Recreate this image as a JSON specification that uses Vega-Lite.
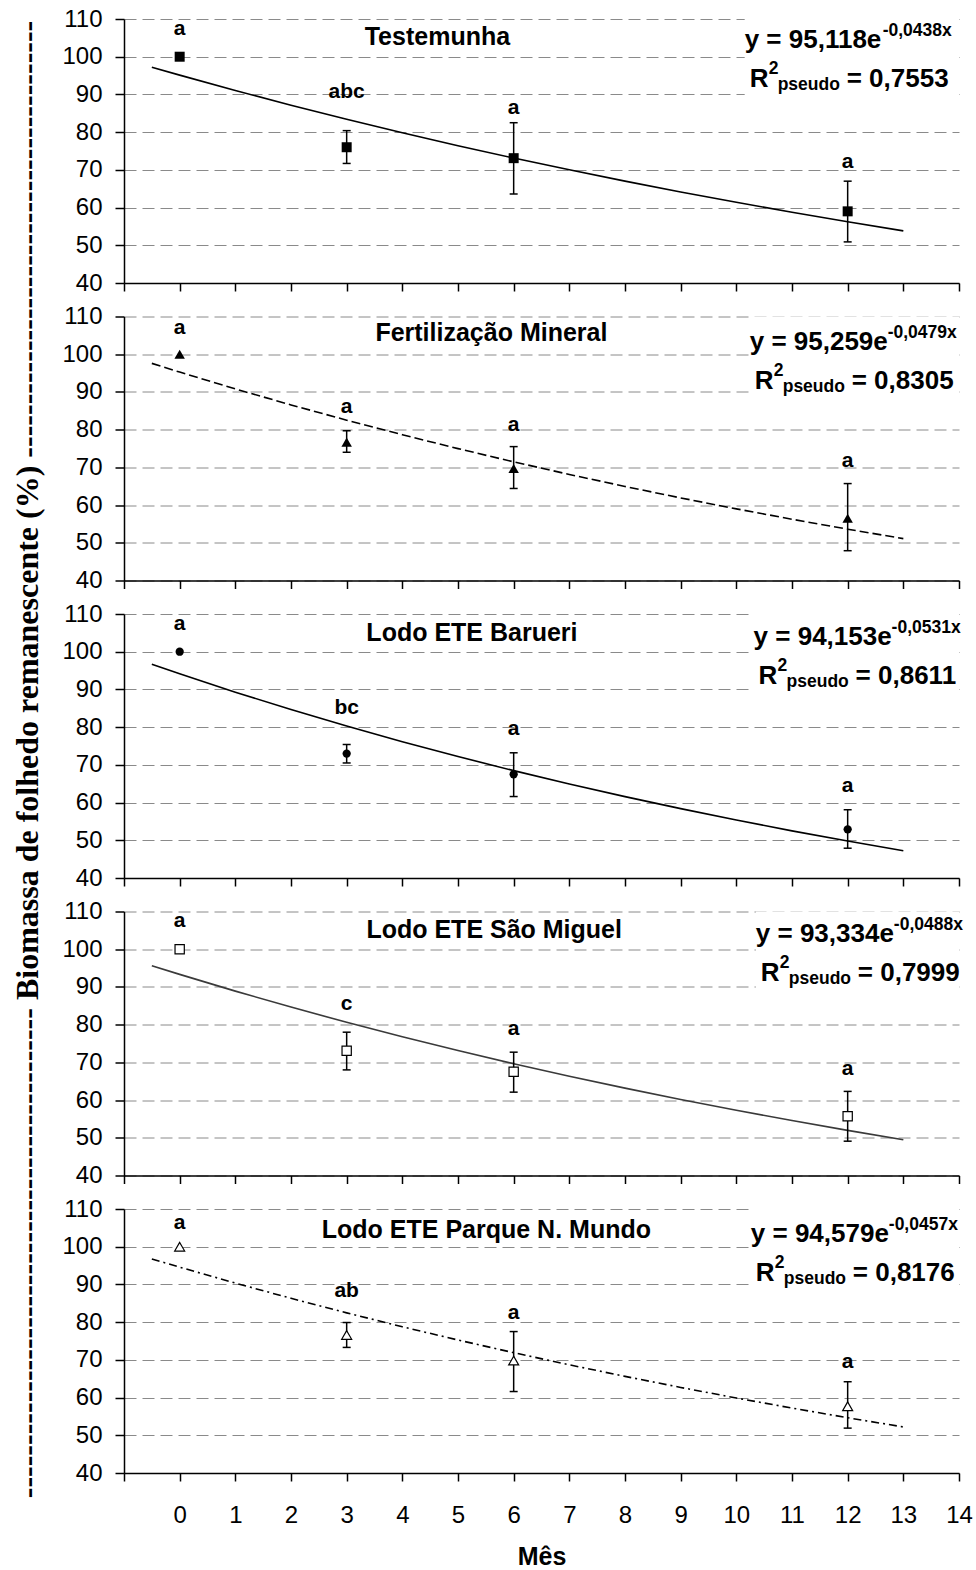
{
"$schema": "https://vega.github.io/schema/vega-lite/v6.json",
"padding": {"left": 11, "top": 7, "right": 5, "bottom": 5},
"background": "white",
"bounds": "flush",
"spacing": 33.5,
"datasets": {
"pts": [
{"t":"T1","mes":0,"mean":100,"lo":null,"hi":null,"letter":"a","ly":107.3},
{"t":"T1","mes":3,"mean":76.0,"lo":71.7,"hi":80.4,"letter":"abc","ly":90.7},
{"t":"T1","mes":6,"mean":73.1,"lo":63.6,"hi":82.5,"letter":"a","ly":86.3},
{"t":"T1","mes":12,"mean":59.0,"lo":50.9,"hi":67.0,"letter":"a","ly":72.0},
{"t":"T2","mes":0,"mean":100,"lo":null,"hi":null,"letter":"a","ly":107.0},
{"t":"T2","mes":3,"mean":76.7,"lo":74.0,"hi":79.7,"letter":"a","ly":85.9},
{"t":"T2","mes":6,"mean":69.7,"lo":64.4,"hi":75.5,"letter":"a","ly":81.2},
{"t":"T2","mes":12,"mean":56.5,"lo":47.9,"hi":65.7,"letter":"a","ly":71.7},
{"t":"T3","mes":0,"mean":100,"lo":null,"hi":null,"letter":"a","ly":107.3},
{"t":"T3","mes":3,"mean":73.0,"lo":70.5,"hi":75.4,"letter":"bc","ly":85.1},
{"t":"T3","mes":6,"mean":67.5,"lo":61.6,"hi":73.2,"letter":"a","ly":79.6},
{"t":"T3","mes":12,"mean":52.9,"lo":47.9,"hi":58.1,"letter":"a","ly":64.4},
{"t":"T4","mes":0,"mean":100,"lo":null,"hi":null,"letter":"a","ly":107.6},
{"t":"T4","mes":3,"mean":73.1,"lo":68.0,"hi":78.0,"letter":"c","ly":85.6},
{"t":"T4","mes":6,"mean":67.5,"lo":62.1,"hi":72.7,"letter":"a","ly":78.8},
{"t":"T4","mes":12,"mean":55.7,"lo":49.1,"hi":62.3,"letter":"a","ly":68.3},
{"t":"T5","mes":0,"mean":100,"lo":null,"hi":null,"letter":"a","ly":106.4},
{"t":"T5","mes":3,"mean":76.6,"lo":73.3,"hi":79.9,"letter":"ab","ly":88.3},
{"t":"T5","mes":6,"mean":69.8,"lo":61.6,"hi":77.5,"letter":"a","ly":82.3},
{"t":"T5","mes":12,"mean":57.7,"lo":51.9,"hi":64.2,"letter":"a","ly":69.5}
],
"fit": [
{"t":"T1","mes":-0.5,"y":97.22},{"t":"T1","mes":0,"y":95.12},{"t":"T1","mes":1,"y":91.04},{"t":"T1","mes":2,"y":87.14},{"t":"T1","mes":3,"y":83.41},{"t":"T1","mes":4,"y":79.83},{"t":"T1","mes":5,"y":76.41},{"t":"T1","mes":6,"y":73.14},{"t":"T1","mes":7,"y":70.01},{"t":"T1","mes":8,"y":67.01},{"t":"T1","mes":9,"y":64.13},{"t":"T1","mes":10,"y":61.39},{"t":"T1","mes":11,"y":58.76},{"t":"T1","mes":12,"y":56.24},{"t":"T1","mes":13,"y":53.82},
{"t":"T2","mes":-0.5,"y":97.57},{"t":"T2","mes":0,"y":95.26},{"t":"T2","mes":1,"y":90.80},{"t":"T2","mes":2,"y":86.56},{"t":"T2","mes":3,"y":82.51},{"t":"T2","mes":4,"y":78.65},{"t":"T2","mes":5,"y":74.97},{"t":"T2","mes":6,"y":71.46},{"t":"T2","mes":7,"y":68.12},{"t":"T2","mes":8,"y":64.94},{"t":"T2","mes":9,"y":61.90},{"t":"T2","mes":10,"y":59.00},{"t":"T2","mes":11,"y":56.24},{"t":"T2","mes":12,"y":53.61},{"t":"T2","mes":13,"y":51.11},
{"t":"T3","mes":-0.5,"y":96.69},{"t":"T3","mes":0,"y":94.15},{"t":"T3","mes":1,"y":89.28},{"t":"T3","mes":2,"y":84.67},{"t":"T3","mes":3,"y":80.29},{"t":"T3","mes":4,"y":76.14},{"t":"T3","mes":5,"y":72.20},{"t":"T3","mes":6,"y":68.47},{"t":"T3","mes":7,"y":64.93},{"t":"T3","mes":8,"y":61.57},{"t":"T3","mes":9,"y":58.39},{"t":"T3","mes":10,"y":55.36},{"t":"T3","mes":11,"y":52.50},{"t":"T3","mes":12,"y":49.79},{"t":"T3","mes":13,"y":47.21},
{"t":"T4","mes":-0.5,"y":95.64},{"t":"T4","mes":0,"y":93.33},{"t":"T4","mes":1,"y":88.89},{"t":"T4","mes":2,"y":84.66},{"t":"T4","mes":3,"y":80.62},{"t":"T4","mes":4,"y":76.78},{"t":"T4","mes":5,"y":73.13},{"t":"T4","mes":6,"y":69.64},{"t":"T4","mes":7,"y":66.33},{"t":"T4","mes":8,"y":63.17},{"t":"T4","mes":9,"y":60.16},{"t":"T4","mes":10,"y":57.29},{"t":"T4","mes":11,"y":54.56},{"t":"T4","mes":12,"y":51.96},{"t":"T4","mes":13,"y":49.49},
{"t":"T5","mes":-0.5,"y":96.76},{"t":"T5","mes":0,"y":94.58},{"t":"T5","mes":1,"y":90.35},{"t":"T5","mes":2,"y":86.32},{"t":"T5","mes":3,"y":82.46},{"t":"T5","mes":4,"y":78.78},{"t":"T5","mes":5,"y":75.26},{"t":"T5","mes":6,"y":71.90},{"t":"T5","mes":7,"y":68.69},{"t":"T5","mes":8,"y":65.62},{"t":"T5","mes":9,"y":62.69},{"t":"T5","mes":10,"y":59.89},{"t":"T5","mes":11,"y":57.21},{"t":"T5","mes":12,"y":54.66},{"t":"T5","mes":13,"y":52.21}
],
"ann": [
{"t":"T1","title":"Testemunha","tx":4.63,"ty":105.2,"ex":10.15,"ey":102.2,"main":"y = 95,118e","sup":"-0,0438x","r2":"= 0,7553"},
{"t":"T2","title":"Fertilização Mineral","tx":5.60,"ty":105.6,"ex":10.24,"ey":101.1,"main":"y = 95,259e","sup":"-0,0479x","r2":"= 0,8305"},
{"t":"T3","title":"Lodo ETE Barueri","tx":5.25,"ty":105.0,"ex":10.31,"ey":101.8,"main":"y = 94,153e","sup":"-0,0531x","r2":"= 0,8611"},
{"t":"T4","title":"Lodo ETE São Miguel","tx":5.65,"ty":105.1,"ex":10.35,"ey":102.0,"main":"y = 93,334e","sup":"-0,0488x","r2":"= 0,7999"},
{"t":"T5","title":"Lodo ETE Parque N. Mundo","tx":5.51,"ty":104.4,"ex":10.26,"ey":101.3,"main":"y = 94,579e","sup":"-0,0457x","r2":"= 0,8176"}
]
},
"vconcat": [
{"width":835,"height":264,"resolve":{"axis":{"x":"independent","y":"independent"}},"layer":[
{"data":{"name":"fit"},"transform":[{"filter":"datum.t==='T1'"}],"mark":{"type":"line","color":"black","strokeWidth":1.6},"encoding":{"x":{"field":"mes","type":"quantitative","scale":{"domain":[-1,14],"nice":false,"zero":false},"axis":{"values":[-1,0,1,2,3,4,5,6,7,8,9,10,11,12,13,14],"tickCount":16,"labels":false,"title":null,"grid":false,"tickSize":8}},"y":{"field":"y","type":"quantitative","scale":{"domain":[40,110],"nice":false,"zero":false},"axis":{"values":[40,50,60,70,80,90,100,110],"tickCount":8,"labelOverlap":false,"title":null,"grid":true,"gridDash":[12,6],"gridColor":"#8a8a8a","gridWidth":1,"tickSize":9,"labelPadding":13}}}},
{"data":{"name":"ann"},"transform":[{"filter":"datum.t==='T1'"}],"mark":{"type":"rect","fill":"white"},"encoding":{"x":{"field":"ex","type":"quantitative","axis":null},"x2":{"datum":14},"y":{"datum":110,"type":"quantitative","axis":null},"y2":{"datum":85}}},
{"data":{"name":"pts"},"transform":[{"filter":"datum.t==='T1' && datum.lo != null"}],"mark":{"type":"rule","color":"black","strokeWidth":1.5},"encoding":{"x":{"field":"mes","type":"quantitative","axis":null},"y":{"field":"lo","type":"quantitative","axis":null},"y2":{"field":"hi"}}},
{"data":{"name":"pts"},"transform":[{"filter":"datum.t==='T1' && datum.lo != null"}],"mark":{"type":"tick","orient":"horizontal","size":8,"thickness":1.5,"color":"black","opacity":1},"encoding":{"x":{"field":"mes","type":"quantitative","axis":null},"y":{"field":"lo","type":"quantitative","axis":null}}},
{"data":{"name":"pts"},"transform":[{"filter":"datum.t==='T1' && datum.lo != null"}],"mark":{"type":"tick","orient":"horizontal","size":8,"thickness":1.5,"color":"black","opacity":1},"encoding":{"x":{"field":"mes","type":"quantitative","axis":null},"y":{"field":"hi","type":"quantitative","axis":null}}},
{"data":{"name":"pts"},"transform":[{"filter":"datum.t==='T1'"}],"mark":{"type":"point","shape":"square","filled":true,"fill":"black","size":100,"opacity":1},"encoding":{"x":{"field":"mes","type":"quantitative","axis":null},"y":{"field":"mean","type":"quantitative","axis":null}}},
{"data":{"name":"pts"},"transform":[{"filter":"datum.t==='T1'"}],"mark":{"type":"text","fontSize":21,"baseline":"middle"},"encoding":{"x":{"field":"mes","type":"quantitative","axis":null},"y":{"field":"ly","type":"quantitative","axis":null},"text":{"field":"letter"}}},
{"data":{"name":"ann"},"transform":[{"filter":"datum.t==='T1'"}],"mark":{"type":"text","fontSize":25,"baseline":"middle"},"encoding":{"x":{"field":"tx","type":"quantitative","axis":null},"y":{"field":"ty","type":"quantitative","axis":null},"text":{"field":"title"}}},
{"data":{"name":"ann"},"transform":[{"filter":"datum.t==='T1'"}],"mark":{"type":"text","fontSize":26,"align":"left","baseline":"alphabetic"},"encoding":{"x":{"field":"ex","type":"quantitative","axis":null},"y":{"field":"ey","type":"quantitative","axis":null},"text":{"field":"main"}}},
{"data":{"name":"ann"},"transform":[{"filter":"datum.t==='T1'"}],"mark":{"type":"text","fontSize":17.5,"align":"left","baseline":"alphabetic","dx":138,"dy":-12},"encoding":{"x":{"field":"ex","type":"quantitative","axis":null},"y":{"field":"ey","type":"quantitative","axis":null},"text":{"field":"sup"}}},
{"data":{"name":"ann"},"transform":[{"filter":"datum.t==='T1'"}],"mark":{"type":"text","fontSize":26,"align":"left","baseline":"alphabetic","dx":5,"dy":39},"encoding":{"x":{"field":"ex","type":"quantitative","axis":null},"y":{"field":"ey","type":"quantitative","axis":null},"text":{"value":"R"}}},
{"data":{"name":"ann"},"transform":[{"filter":"datum.t==='T1'"}],"mark":{"type":"text","fontSize":17.5,"align":"left","baseline":"alphabetic","dx":24,"dy":26},"encoding":{"x":{"field":"ex","type":"quantitative","axis":null},"y":{"field":"ey","type":"quantitative","axis":null},"text":{"value":"2"}}},
{"data":{"name":"ann"},"transform":[{"filter":"datum.t==='T1'"}],"mark":{"type":"text","fontSize":17.5,"align":"left","baseline":"alphabetic","dx":33,"dy":42},"encoding":{"x":{"field":"ex","type":"quantitative","axis":null},"y":{"field":"ey","type":"quantitative","axis":null},"text":{"value":"pseudo"}}},
{"data":{"name":"ann"},"transform":[{"filter":"datum.t==='T1'"}],"mark":{"type":"text","fontSize":26,"align":"left","baseline":"alphabetic","dx":102,"dy":39},"encoding":{"x":{"field":"ex","type":"quantitative","axis":null},"y":{"field":"ey","type":"quantitative","axis":null},"text":{"field":"r2"}}}
]},
{"width":835,"height":264,"resolve":{"axis":{"x":"independent","y":"independent"}},"layer":[
{"data":{"name":"fit"},"transform":[{"filter":"datum.t==='T2'"}],"mark":{"type":"line","color":"black","strokeWidth":1.6,"strokeDash":[9,4]},"encoding":{"x":{"field":"mes","type":"quantitative","scale":{"domain":[-1,14],"nice":false,"zero":false},"axis":{"values":[-1,0,1,2,3,4,5,6,7,8,9,10,11,12,13,14],"tickCount":16,"labels":false,"title":null,"grid":false,"tickSize":8}},"y":{"field":"y","type":"quantitative","scale":{"domain":[40,110],"nice":false,"zero":false},"axis":{"values":[40,50,60,70,80,90,100,110],"tickCount":8,"labelOverlap":false,"title":null,"grid":true,"gridDash":[12,6],"gridColor":"#8a8a8a","gridWidth":1,"tickSize":9,"labelPadding":13}}}},
{"data":{"name":"ann"},"transform":[{"filter":"datum.t==='T2'"}],"mark":{"type":"rect","fill":"white"},"encoding":{"x":{"field":"ex","type":"quantitative","axis":null},"x2":{"datum":14},"y":{"datum":110,"type":"quantitative","axis":null},"y2":{"datum":85}}},
{"data":{"name":"pts"},"transform":[{"filter":"datum.t==='T2' && datum.lo != null"}],"mark":{"type":"rule","color":"black","strokeWidth":1.5},"encoding":{"x":{"field":"mes","type":"quantitative","axis":null},"y":{"field":"lo","type":"quantitative","axis":null},"y2":{"field":"hi"}}},
{"data":{"name":"pts"},"transform":[{"filter":"datum.t==='T2' && datum.lo != null"}],"mark":{"type":"tick","orient":"horizontal","size":8,"thickness":1.5,"color":"black","opacity":1},"encoding":{"x":{"field":"mes","type":"quantitative","axis":null},"y":{"field":"lo","type":"quantitative","axis":null}}},
{"data":{"name":"pts"},"transform":[{"filter":"datum.t==='T2' && datum.lo != null"}],"mark":{"type":"tick","orient":"horizontal","size":8,"thickness":1.5,"color":"black","opacity":1},"encoding":{"x":{"field":"mes","type":"quantitative","axis":null},"y":{"field":"hi","type":"quantitative","axis":null}}},
{"data":{"name":"pts"},"transform":[{"filter":"datum.t==='T2'"}],"mark":{"type":"point","shape":"triangle-up","filled":true,"fill":"black","size":110,"opacity":1},"encoding":{"x":{"field":"mes","type":"quantitative","axis":null},"y":{"field":"mean","type":"quantitative","axis":null}}},
{"data":{"name":"pts"},"transform":[{"filter":"datum.t==='T2'"}],"mark":{"type":"text","fontSize":21,"baseline":"middle"},"encoding":{"x":{"field":"mes","type":"quantitative","axis":null},"y":{"field":"ly","type":"quantitative","axis":null},"text":{"field":"letter"}}},
{"data":{"name":"ann"},"transform":[{"filter":"datum.t==='T2'"}],"mark":{"type":"text","fontSize":25,"baseline":"middle"},"encoding":{"x":{"field":"tx","type":"quantitative","axis":null},"y":{"field":"ty","type":"quantitative","axis":null},"text":{"field":"title"}}},
{"data":{"name":"ann"},"transform":[{"filter":"datum.t==='T2'"}],"mark":{"type":"text","fontSize":26,"align":"left","baseline":"alphabetic"},"encoding":{"x":{"field":"ex","type":"quantitative","axis":null},"y":{"field":"ey","type":"quantitative","axis":null},"text":{"field":"main"}}},
{"data":{"name":"ann"},"transform":[{"filter":"datum.t==='T2'"}],"mark":{"type":"text","fontSize":17.5,"align":"left","baseline":"alphabetic","dx":138,"dy":-12},"encoding":{"x":{"field":"ex","type":"quantitative","axis":null},"y":{"field":"ey","type":"quantitative","axis":null},"text":{"field":"sup"}}},
{"data":{"name":"ann"},"transform":[{"filter":"datum.t==='T2'"}],"mark":{"type":"text","fontSize":26,"align":"left","baseline":"alphabetic","dx":5,"dy":39},"encoding":{"x":{"field":"ex","type":"quantitative","axis":null},"y":{"field":"ey","type":"quantitative","axis":null},"text":{"value":"R"}}},
{"data":{"name":"ann"},"transform":[{"filter":"datum.t==='T2'"}],"mark":{"type":"text","fontSize":17.5,"align":"left","baseline":"alphabetic","dx":24,"dy":26},"encoding":{"x":{"field":"ex","type":"quantitative","axis":null},"y":{"field":"ey","type":"quantitative","axis":null},"text":{"value":"2"}}},
{"data":{"name":"ann"},"transform":[{"filter":"datum.t==='T2'"}],"mark":{"type":"text","fontSize":17.5,"align":"left","baseline":"alphabetic","dx":33,"dy":42},"encoding":{"x":{"field":"ex","type":"quantitative","axis":null},"y":{"field":"ey","type":"quantitative","axis":null},"text":{"value":"pseudo"}}},
{"data":{"name":"ann"},"transform":[{"filter":"datum.t==='T2'"}],"mark":{"type":"text","fontSize":26,"align":"left","baseline":"alphabetic","dx":102,"dy":39},"encoding":{"x":{"field":"ex","type":"quantitative","axis":null},"y":{"field":"ey","type":"quantitative","axis":null},"text":{"field":"r2"}}}
]},
{"width":835,"height":264,"resolve":{"axis":{"x":"independent","y":"independent"}},"layer":[
{"data":{"name":"fit"},"transform":[{"filter":"datum.t==='T3'"}],"mark":{"type":"line","color":"black","strokeWidth":1.6},"encoding":{"x":{"field":"mes","type":"quantitative","scale":{"domain":[-1,14],"nice":false,"zero":false},"axis":{"values":[-1,0,1,2,3,4,5,6,7,8,9,10,11,12,13,14],"tickCount":16,"labels":false,"title":null,"grid":false,"tickSize":8}},"y":{"field":"y","type":"quantitative","scale":{"domain":[40,110],"nice":false,"zero":false},"axis":{"values":[40,50,60,70,80,90,100,110],"tickCount":8,"labelOverlap":false,"grid":true,"gridDash":[12,6],"gridColor":"#8a8a8a","gridWidth":1,"tickSize":9,"labelPadding":13,"title":"---------------------------------------------- Biomassa de folhedo remanescente (%) -----------------------------------------","titleFont":"Liberation Serif","titleFontSize":32,"titleFontWeight":"bold","titleColor":"black","titleX":-86.5,"titleY":145,"titleBaseline":"alphabetic","titleAlign":"center","titleAngle":270}}}},
{"data":{"name":"ann"},"transform":[{"filter":"datum.t==='T3'"}],"mark":{"type":"rect","fill":"white"},"encoding":{"x":{"field":"ex","type":"quantitative","axis":null},"x2":{"datum":14},"y":{"datum":110,"type":"quantitative","axis":null},"y2":{"datum":85}}},
{"data":{"name":"pts"},"transform":[{"filter":"datum.t==='T3' && datum.lo != null"}],"mark":{"type":"rule","color":"black","strokeWidth":1.5},"encoding":{"x":{"field":"mes","type":"quantitative","axis":null},"y":{"field":"lo","type":"quantitative","axis":null},"y2":{"field":"hi"}}},
{"data":{"name":"pts"},"transform":[{"filter":"datum.t==='T3' && datum.lo != null"}],"mark":{"type":"tick","orient":"horizontal","size":8,"thickness":1.5,"color":"black","opacity":1},"encoding":{"x":{"field":"mes","type":"quantitative","axis":null},"y":{"field":"lo","type":"quantitative","axis":null}}},
{"data":{"name":"pts"},"transform":[{"filter":"datum.t==='T3' && datum.lo != null"}],"mark":{"type":"tick","orient":"horizontal","size":8,"thickness":1.5,"color":"black","opacity":1},"encoding":{"x":{"field":"mes","type":"quantitative","axis":null},"y":{"field":"hi","type":"quantitative","axis":null}}},
{"data":{"name":"pts"},"transform":[{"filter":"datum.t==='T3'"}],"mark":{"type":"point","shape":"circle","filled":true,"fill":"black","size":68,"opacity":1},"encoding":{"x":{"field":"mes","type":"quantitative","axis":null},"y":{"field":"mean","type":"quantitative","axis":null}}},
{"data":{"name":"pts"},"transform":[{"filter":"datum.t==='T3'"}],"mark":{"type":"text","fontSize":21,"baseline":"middle"},"encoding":{"x":{"field":"mes","type":"quantitative","axis":null},"y":{"field":"ly","type":"quantitative","axis":null},"text":{"field":"letter"}}},
{"data":{"name":"ann"},"transform":[{"filter":"datum.t==='T3'"}],"mark":{"type":"text","fontSize":25,"baseline":"middle"},"encoding":{"x":{"field":"tx","type":"quantitative","axis":null},"y":{"field":"ty","type":"quantitative","axis":null},"text":{"field":"title"}}},
{"data":{"name":"ann"},"transform":[{"filter":"datum.t==='T3'"}],"mark":{"type":"text","fontSize":26,"align":"left","baseline":"alphabetic"},"encoding":{"x":{"field":"ex","type":"quantitative","axis":null},"y":{"field":"ey","type":"quantitative","axis":null},"text":{"field":"main"}}},
{"data":{"name":"ann"},"transform":[{"filter":"datum.t==='T3'"}],"mark":{"type":"text","fontSize":17.5,"align":"left","baseline":"alphabetic","dx":138,"dy":-12},"encoding":{"x":{"field":"ex","type":"quantitative","axis":null},"y":{"field":"ey","type":"quantitative","axis":null},"text":{"field":"sup"}}},
{"data":{"name":"ann"},"transform":[{"filter":"datum.t==='T3'"}],"mark":{"type":"text","fontSize":26,"align":"left","baseline":"alphabetic","dx":5,"dy":39},"encoding":{"x":{"field":"ex","type":"quantitative","axis":null},"y":{"field":"ey","type":"quantitative","axis":null},"text":{"value":"R"}}},
{"data":{"name":"ann"},"transform":[{"filter":"datum.t==='T3'"}],"mark":{"type":"text","fontSize":17.5,"align":"left","baseline":"alphabetic","dx":24,"dy":26},"encoding":{"x":{"field":"ex","type":"quantitative","axis":null},"y":{"field":"ey","type":"quantitative","axis":null},"text":{"value":"2"}}},
{"data":{"name":"ann"},"transform":[{"filter":"datum.t==='T3'"}],"mark":{"type":"text","fontSize":17.5,"align":"left","baseline":"alphabetic","dx":33,"dy":42},"encoding":{"x":{"field":"ex","type":"quantitative","axis":null},"y":{"field":"ey","type":"quantitative","axis":null},"text":{"value":"pseudo"}}},
{"data":{"name":"ann"},"transform":[{"filter":"datum.t==='T3'"}],"mark":{"type":"text","fontSize":26,"align":"left","baseline":"alphabetic","dx":102,"dy":39},"encoding":{"x":{"field":"ex","type":"quantitative","axis":null},"y":{"field":"ey","type":"quantitative","axis":null},"text":{"field":"r2"}}}
]},
{"width":835,"height":264,"resolve":{"axis":{"x":"independent","y":"independent"}},"layer":[
{"data":{"name":"fit"},"transform":[{"filter":"datum.t==='T4'"}],"mark":{"type":"line","color":"#3a3a3a","strokeWidth":1.6},"encoding":{"x":{"field":"mes","type":"quantitative","scale":{"domain":[-1,14],"nice":false,"zero":false},"axis":{"values":[-1,0,1,2,3,4,5,6,7,8,9,10,11,12,13,14],"tickCount":16,"labels":false,"title":null,"grid":false,"tickSize":8}},"y":{"field":"y","type":"quantitative","scale":{"domain":[40,110],"nice":false,"zero":false},"axis":{"values":[40,50,60,70,80,90,100,110],"tickCount":8,"labelOverlap":false,"title":null,"grid":true,"gridDash":[12,6],"gridColor":"#8a8a8a","gridWidth":1,"tickSize":9,"labelPadding":13}}}},
{"data":{"name":"ann"},"transform":[{"filter":"datum.t==='T4'"}],"mark":{"type":"rect","fill":"white"},"encoding":{"x":{"field":"ex","type":"quantitative","axis":null},"x2":{"datum":14},"y":{"datum":110,"type":"quantitative","axis":null},"y2":{"datum":85}}},
{"data":{"name":"pts"},"transform":[{"filter":"datum.t==='T4' && datum.lo != null"}],"mark":{"type":"rule","color":"black","strokeWidth":1.5},"encoding":{"x":{"field":"mes","type":"quantitative","axis":null},"y":{"field":"lo","type":"quantitative","axis":null},"y2":{"field":"hi"}}},
{"data":{"name":"pts"},"transform":[{"filter":"datum.t==='T4' && datum.lo != null"}],"mark":{"type":"tick","orient":"horizontal","size":8,"thickness":1.5,"color":"black","opacity":1},"encoding":{"x":{"field":"mes","type":"quantitative","axis":null},"y":{"field":"lo","type":"quantitative","axis":null}}},
{"data":{"name":"pts"},"transform":[{"filter":"datum.t==='T4' && datum.lo != null"}],"mark":{"type":"tick","orient":"horizontal","size":8,"thickness":1.5,"color":"black","opacity":1},"encoding":{"x":{"field":"mes","type":"quantitative","axis":null},"y":{"field":"hi","type":"quantitative","axis":null}}},
{"data":{"name":"pts"},"transform":[{"filter":"datum.t==='T4'"}],"mark":{"type":"point","shape":"square","filled":true,"fill":"white","stroke":"black","strokeWidth":1.2,"size":86,"opacity":1},"encoding":{"x":{"field":"mes","type":"quantitative","axis":null},"y":{"field":"mean","type":"quantitative","axis":null}}},
{"data":{"name":"pts"},"transform":[{"filter":"datum.t==='T4'"}],"mark":{"type":"text","fontSize":21,"baseline":"middle"},"encoding":{"x":{"field":"mes","type":"quantitative","axis":null},"y":{"field":"ly","type":"quantitative","axis":null},"text":{"field":"letter"}}},
{"data":{"name":"ann"},"transform":[{"filter":"datum.t==='T4'"}],"mark":{"type":"text","fontSize":25,"baseline":"middle"},"encoding":{"x":{"field":"tx","type":"quantitative","axis":null},"y":{"field":"ty","type":"quantitative","axis":null},"text":{"field":"title"}}},
{"data":{"name":"ann"},"transform":[{"filter":"datum.t==='T4'"}],"mark":{"type":"text","fontSize":26,"align":"left","baseline":"alphabetic"},"encoding":{"x":{"field":"ex","type":"quantitative","axis":null},"y":{"field":"ey","type":"quantitative","axis":null},"text":{"field":"main"}}},
{"data":{"name":"ann"},"transform":[{"filter":"datum.t==='T4'"}],"mark":{"type":"text","fontSize":17.5,"align":"left","baseline":"alphabetic","dx":138,"dy":-12},"encoding":{"x":{"field":"ex","type":"quantitative","axis":null},"y":{"field":"ey","type":"quantitative","axis":null},"text":{"field":"sup"}}},
{"data":{"name":"ann"},"transform":[{"filter":"datum.t==='T4'"}],"mark":{"type":"text","fontSize":26,"align":"left","baseline":"alphabetic","dx":5,"dy":39},"encoding":{"x":{"field":"ex","type":"quantitative","axis":null},"y":{"field":"ey","type":"quantitative","axis":null},"text":{"value":"R"}}},
{"data":{"name":"ann"},"transform":[{"filter":"datum.t==='T4'"}],"mark":{"type":"text","fontSize":17.5,"align":"left","baseline":"alphabetic","dx":24,"dy":26},"encoding":{"x":{"field":"ex","type":"quantitative","axis":null},"y":{"field":"ey","type":"quantitative","axis":null},"text":{"value":"2"}}},
{"data":{"name":"ann"},"transform":[{"filter":"datum.t==='T4'"}],"mark":{"type":"text","fontSize":17.5,"align":"left","baseline":"alphabetic","dx":33,"dy":42},"encoding":{"x":{"field":"ex","type":"quantitative","axis":null},"y":{"field":"ey","type":"quantitative","axis":null},"text":{"value":"pseudo"}}},
{"data":{"name":"ann"},"transform":[{"filter":"datum.t==='T4'"}],"mark":{"type":"text","fontSize":26,"align":"left","baseline":"alphabetic","dx":102,"dy":39},"encoding":{"x":{"field":"ex","type":"quantitative","axis":null},"y":{"field":"ey","type":"quantitative","axis":null},"text":{"field":"r2"}}}
]},
{"width":835,"height":264,"resolve":{"axis":{"x":"independent","y":"independent"}},"layer":[
{"data":{"name":"fit"},"transform":[{"filter":"datum.t==='T5'"}],"mark":{"type":"line","color":"black","strokeWidth":1.6,"strokeDash":[8,4,2,4]},"encoding":{"x":{"field":"mes","type":"quantitative","scale":{"domain":[-1,14],"nice":false,"zero":false},"axis":{"values":[-1,0,1,2,3,4,5,6,7,8,9,10,11,12,13,14],"tickCount":16,"labelExpr":"datum.value < 0 ? '' : datum.label","labelFlush":false,"labelOverlap":false,"labelPadding":22,"grid":false,"tickSize":8,"title":"Mês","titleFont":"Liberation Sans","titleFontSize":25,"titleFontWeight":"bold","titleColor":"black","titleY":83,"titleBaseline":"middle"}},"y":{"field":"y","type":"quantitative","scale":{"domain":[40,110],"nice":false,"zero":false},"axis":{"values":[40,50,60,70,80,90,100,110],"tickCount":8,"labelOverlap":false,"title":null,"grid":true,"gridDash":[12,6],"gridColor":"#8a8a8a","gridWidth":1,"tickSize":9,"labelPadding":13}}}},
{"data":{"name":"ann"},"transform":[{"filter":"datum.t==='T5'"}],"mark":{"type":"rect","fill":"white"},"encoding":{"x":{"field":"ex","type":"quantitative","axis":null},"x2":{"datum":14},"y":{"datum":110,"type":"quantitative","axis":null},"y2":{"datum":85}}},
{"data":{"name":"pts"},"transform":[{"filter":"datum.t==='T5' && datum.lo != null"}],"mark":{"type":"rule","color":"black","strokeWidth":1.5},"encoding":{"x":{"field":"mes","type":"quantitative","axis":null},"y":{"field":"lo","type":"quantitative","axis":null},"y2":{"field":"hi"}}},
{"data":{"name":"pts"},"transform":[{"filter":"datum.t==='T5' && datum.lo != null"}],"mark":{"type":"tick","orient":"horizontal","size":8,"thickness":1.5,"color":"black","opacity":1},"encoding":{"x":{"field":"mes","type":"quantitative","axis":null},"y":{"field":"lo","type":"quantitative","axis":null}}},
{"data":{"name":"pts"},"transform":[{"filter":"datum.t==='T5' && datum.lo != null"}],"mark":{"type":"tick","orient":"horizontal","size":8,"thickness":1.5,"color":"black","opacity":1},"encoding":{"x":{"field":"mes","type":"quantitative","axis":null},"y":{"field":"hi","type":"quantitative","axis":null}}},
{"data":{"name":"pts"},"transform":[{"filter":"datum.t==='T5'"}],"mark":{"type":"point","shape":"triangle-up","filled":true,"fill":"white","stroke":"black","strokeWidth":1.2,"size":100,"opacity":1},"encoding":{"x":{"field":"mes","type":"quantitative","axis":null},"y":{"field":"mean","type":"quantitative","axis":null}}},
{"data":{"name":"pts"},"transform":[{"filter":"datum.t==='T5'"}],"mark":{"type":"text","fontSize":21,"baseline":"middle"},"encoding":{"x":{"field":"mes","type":"quantitative","axis":null},"y":{"field":"ly","type":"quantitative","axis":null},"text":{"field":"letter"}}},
{"data":{"name":"ann"},"transform":[{"filter":"datum.t==='T5'"}],"mark":{"type":"text","fontSize":25,"baseline":"middle"},"encoding":{"x":{"field":"tx","type":"quantitative","axis":null},"y":{"field":"ty","type":"quantitative","axis":null},"text":{"field":"title"}}},
{"data":{"name":"ann"},"transform":[{"filter":"datum.t==='T5'"}],"mark":{"type":"text","fontSize":26,"align":"left","baseline":"alphabetic"},"encoding":{"x":{"field":"ex","type":"quantitative","axis":null},"y":{"field":"ey","type":"quantitative","axis":null},"text":{"field":"main"}}},
{"data":{"name":"ann"},"transform":[{"filter":"datum.t==='T5'"}],"mark":{"type":"text","fontSize":17.5,"align":"left","baseline":"alphabetic","dx":138,"dy":-12},"encoding":{"x":{"field":"ex","type":"quantitative","axis":null},"y":{"field":"ey","type":"quantitative","axis":null},"text":{"field":"sup"}}},
{"data":{"name":"ann"},"transform":[{"filter":"datum.t==='T5'"}],"mark":{"type":"text","fontSize":26,"align":"left","baseline":"alphabetic","dx":5,"dy":39},"encoding":{"x":{"field":"ex","type":"quantitative","axis":null},"y":{"field":"ey","type":"quantitative","axis":null},"text":{"value":"R"}}},
{"data":{"name":"ann"},"transform":[{"filter":"datum.t==='T5'"}],"mark":{"type":"text","fontSize":17.5,"align":"left","baseline":"alphabetic","dx":24,"dy":26},"encoding":{"x":{"field":"ex","type":"quantitative","axis":null},"y":{"field":"ey","type":"quantitative","axis":null},"text":{"value":"2"}}},
{"data":{"name":"ann"},"transform":[{"filter":"datum.t==='T5'"}],"mark":{"type":"text","fontSize":17.5,"align":"left","baseline":"alphabetic","dx":33,"dy":42},"encoding":{"x":{"field":"ex","type":"quantitative","axis":null},"y":{"field":"ey","type":"quantitative","axis":null},"text":{"value":"pseudo"}}},
{"data":{"name":"ann"},"transform":[{"filter":"datum.t==='T5'"}],"mark":{"type":"text","fontSize":26,"align":"left","baseline":"alphabetic","dx":102,"dy":39},"encoding":{"x":{"field":"ex","type":"quantitative","axis":null},"y":{"field":"ey","type":"quantitative","axis":null},"text":{"field":"r2"}}}
]}
],
"config": {
"view": {"stroke": null},
"axis": {"labelFont":"Liberation Sans","labelFontSize":24,"labelColor":"black","labelFontWeight":"normal","domainColor":"black","domainWidth":1.5,"tickColor":"black","tickWidth":1.5,"titleColor":"black"},
"axisY": {"tickCount": 8, "labelOverlap": false},
"text": {"font":"Liberation Sans","fontWeight":"bold","color":"black"}
}
}
